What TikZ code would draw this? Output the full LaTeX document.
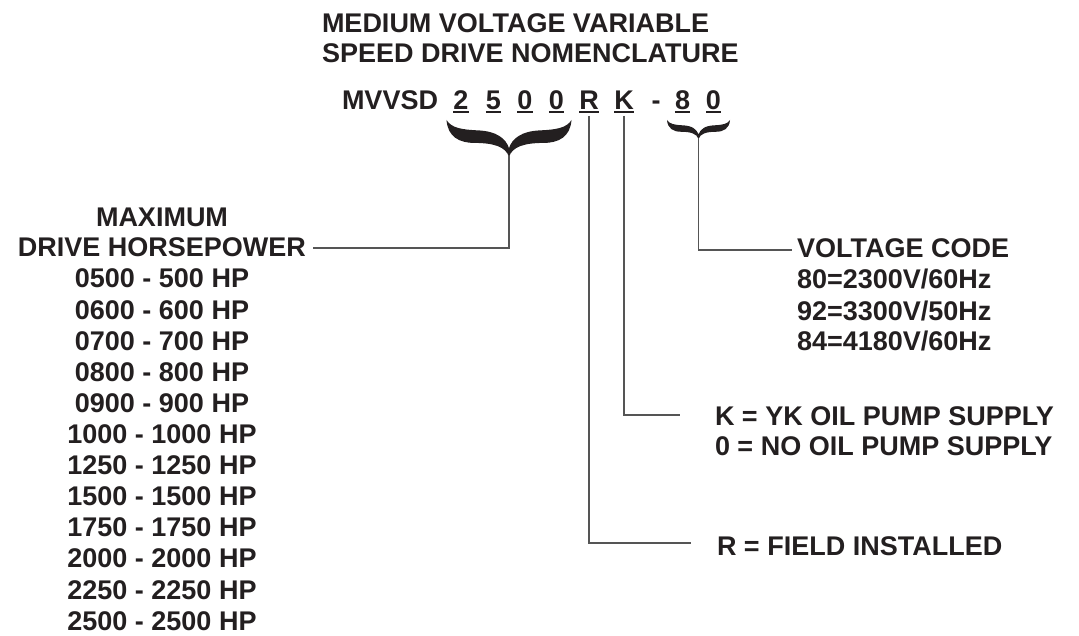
\documentclass[tikz,border=0pt]{standalone}
\usepackage{fontspec}
\setmainfont{Liberation Sans}
\definecolor{ink}{RGB}{35,31,32}
\definecolor{wire}{RGB}{85,85,85}
\tikzset{
  txt/.style={inner sep=0pt, outer sep=0pt, text=ink, font=\fontsize{27}{31}\selectfont\bfseries},
  codechar/.style={txt, anchor=base},
  uline/.style={draw=ink, line width=2pt},
  conn/.style={draw=wire, line width=1.1pt},
  bracefill/.style={fill=ink, draw=none}
}
\newcommand\mybrace[4]{% center x, top y, half width, height
  \fill[bracefill, shift={(#1,#2)}, xscale=#3, yscale=#4]
    (-1,0) .. controls (-0.98,0.45) and (-0.8,0.62) .. (-0.55,0.62)
    .. controls (-0.25,0.62) and (-0.05,0.72) .. (0,1)
    .. controls (0.05,0.72) and (0.25,0.62) .. (0.55,0.62)
    .. controls (0.8,0.62) and (0.98,0.45) .. (1,0)
    .. controls (0.92,0.22) and (0.75,0.26) .. (0.5,0.28)
    .. controls (0.2,0.3) and (0.05,0.5) .. (0,0.76)
    .. controls (-0.05,0.5) and (-0.2,0.3) .. (-0.5,0.28)
    .. controls (-0.75,0.26) and (-0.92,0.22) .. (-1,0) -- cycle;
}
\begin{document}
\begin{tikzpicture}[x=1pt,y=-1pt]
\useasboundingbox (0,0) rectangle (1079,636);

% title
\node[txt, anchor=base west] (t1) at (322,33) {MEDIUM VOLTAGE VARIABLE};
\node[txt, anchor=base west] (t2) at (322,63) {SPEED DRIVE NOMENCLATURE};

% code
\node[txt, anchor=base west] (mv) at (342,110) {MVVSD};
\node[codechar] (c1) at (461,110) {2};
\node[codechar] (c2) at (493.5,110) {5};
\node[codechar] (c3) at (525,110) {0};
\node[codechar] (c4) at (556.5,110) {0};
\node[codechar] (cr) at (589,110) {R};
\node[codechar] (ck) at (624,110) {K};
\node[codechar] (cd) at (656,110) {-};
\node[codechar] (c8) at (682.5,110) {8};
\node[codechar] (c0) at (713.5,110) {0};
\foreach \n in {c1,c2,c3,c4,cr,ck,c8,c0}
  \draw[uline] ([yshift=-2.5pt]\n.base west) -- ([yshift=-2.5pt]\n.base east);

% braces
\mybrace{509}{120}{62.5}{37}
\mybrace{698.5}{120}{31.5}{19}
\coordinate (bt) at (509,156);
\coordinate (vt) at (698.5,138);

% left column
\node[txt, anchor=base] (hpa) at (162,227) {MAXIMUM};
\node[txt, anchor=base] (hpb) at (162,257) {DRIVE HORSEPOWER};
\foreach \t [count=\i from 0] in {0500 - 500 HP,0600 - 600 HP,0700 - 700 HP,0800 - 800 HP,0900 - 900 HP,1000 - 1000 HP,1250 - 1250 HP,1500 - 1500 HP,1750 - 1750 HP,2000 - 2000 HP,2250 - 2250 HP,2500 - 2500 HP}
  \node[txt, anchor=base] (hp\i) at (162,288+31.1*\i) {\t};

% right texts
\node[txt, anchor=base west] (vc) at (797,258) {VOLTAGE CODE};
\node[txt, anchor=base west] (v1) at (797,289) {80=2300V/60Hz};
\node[txt, anchor=base west] (v2) at (797,320) {92=3300V/50Hz};
\node[txt, anchor=base west] (v3) at (797,351) {84=4180V/60Hz};
\node[txt, anchor=base west] (k1) at (715,425) {K = YK OIL PUMP SUPPLY};
\node[txt, anchor=base west] (k2) at (715,455) {0 = NO OIL PUMP SUPPLY};
\node[txt, anchor=base west] (r1) at (717,555) {R = FIELD INSTALLED};

% connectors
\draw[conn] (bt) |- ([xshift=7pt,yshift=9pt]hpb.base east);
\draw[conn] (vt) |- ([xshift=-5pt,yshift=8pt]vc.base west);
\draw[conn] ([yshift=-6pt]ck.base) |- ([xshift=-35pt,yshift=10pt]k1.base west);
\draw[conn] ([yshift=-6pt]cr.base) |- ([xshift=-26pt,yshift=12pt]r1.base west);
\end{tikzpicture}
\end{document}
